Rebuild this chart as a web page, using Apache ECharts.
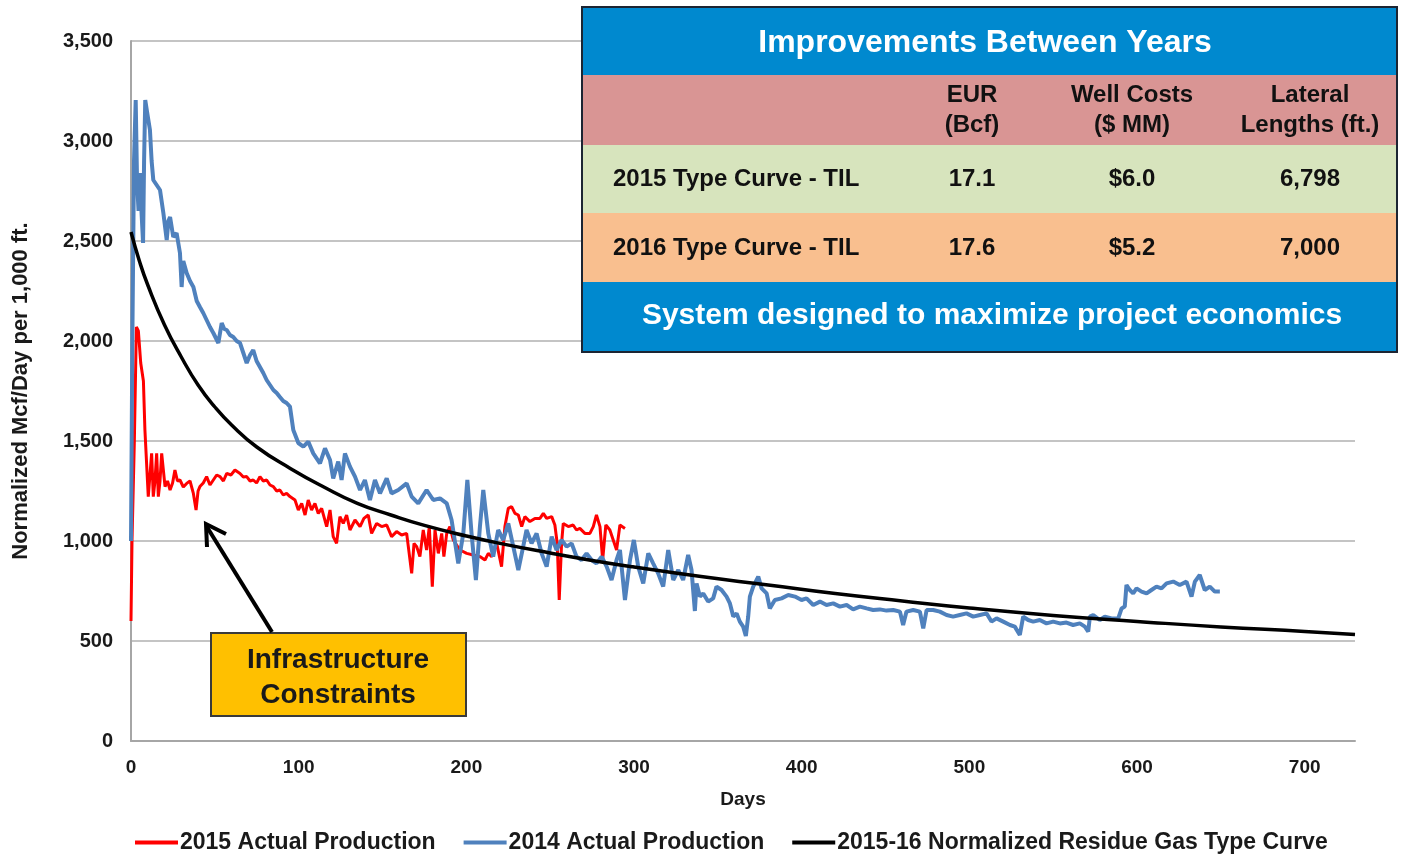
<!DOCTYPE html>
<html>
<head>
<meta charset="utf-8">
<title>Normalized production vs type curve</title>
<script src="https://cdn.jsdelivr.net/npm/echarts@6/dist/echarts.min.js"></script>
<style>
  html, body { margin: 0; padding: 0; background: #fff; }
  #chart { width: 1404px; height: 857px; }
</style>
</head>
<body>
<div id="chart"></div>
<script>
// [day, Mcf/day per 1,000 ft]
const prod2015 = [
  [0,600],[0.6,1000],[2,1500],[3.2,2070],[4.4,2050],[5.8,1890],[7.4,1800],[8.3,1555],[10.3,1222],[11.5,1350],
  [12.3,1438],[13.3,1222],[14.3,1300],[15.3,1438],[16.3,1222],[17.3,1300],[18.3,1438],[20.3,1272],[21.8,1300],[23.3,1255],
  [24.8,1290],[26.2,1355],[27.7,1300],[29.2,1305],[31.2,1270],[33.2,1288],[35.2,1300],[37.2,1238],[38.8,1155],[40,1250],
  [41.1,1272],[43.1,1290],[45.1,1322],[47.1,1280],[49.1,1305],[51.1,1330],[53.1,1322],[55.1,1300],[57.1,1338],[59.6,1330],
  [62,1355],[65,1338],[67,1320],[69,1322],[71,1300],[72.9,1305],[74.9,1290],[76.9,1322],[78.9,1300],[80.9,1305],
  [82.9,1280],[84.9,1272],[86.9,1250],[88.8,1255],[90.8,1230],[92.8,1238],[94.8,1222],[97.8,1205],[99.8,1155],[101.8,1188],
  [103.8,1130],[105.7,1205],[107.7,1155],[109.7,1188],[111.7,1138],[113.7,1163],[116.7,1072],[118.7,1155],[120.6,1022],[122.6,988],
  [124.6,1122],[126.6,1088],[128.6,1130],[130.6,1055],[133.6,1105],[136.6,1072],[138.9,1113],[141.5,1130],[143.5,1038],[146.5,1088],
  [149.5,1072],[152.5,1080],[155.4,1022],[158.4,1047],[161.4,1030],[164.4,1038],[167.4,838],[168.8,988],[170.4,972],[172.3,922],
  [174.3,1055],[176.3,955],[177.9,1072],[179.7,772],[181.3,1055],[183.3,938],[185.3,1038],[186.6,922],[188.3,1038],[190.2,1072],
  [192.2,1005],[196.2,955],[200.2,938],[204.1,930],[208.1,922],[211.1,905],[213.1,938],[215.1,922],[218.1,988],[221,872],
  [223,1072],[225,1163],[227,1172],[229,1138],[231,1130],[233,1072],[234.9,1122],[237.9,1097],[240.9,1113],[243.9,1113],
  [245.9,1138],[247.9,1113],[250.9,1122],[252.8,1080],[254.2,988],[255.4,705],[256.8,988],[257.8,1088],[260.8,1072],[263.7,1080],
  [265.7,1055],[267.7,1063],[270.7,1038],[273.7,1038],[275.7,1072],[277.6,1130],[279.7,1072],[281.3,905],[283.2,1080],[285.6,1055],
  [287.6,1005],[289.6,955],[291.6,1080],[294.6,1063]
];

const prod2014 = [
  [0,1000],[0.8,2000],[1.8,2900],[2.8,3205],[3.6,2800],[4.5,2650],[5.4,2840],[6.3,2640],[7.2,2490],[7.8,2900],
  [8.5,3205],[9.5,3150],[11.3,3055],[12.3,2900],[13.3,2805],[15.3,2780],[17.3,2755],[19.3,2640],[21.3,2505],[22.3,2600],
  [23.3,2620],[25.2,2520],[27.2,2540],[29.2,2440],[30.2,2270],[31.2,2400],[33.2,2340],[35.2,2300],[37.2,2270],[39.2,2200],
  [41.1,2170],[43.1,2140],[45.1,2105],[47.1,2070],[49.1,2040],[52.1,1990],[54.1,2090],[55.6,2060],[57.1,2055],[59,2030],
  [61,2020],[63,2000],[65,1990],[67,1940],[69,1890],[71,1930],[72.9,1955],[74.9,1900],[76.9,1870],[78.9,1840],
  [80.9,1805],[82.9,1780],[84.9,1755],[86.9,1740],[88.8,1720],[90.8,1700],[92.8,1690],[94.8,1672],[96.8,1555],[99.8,1490],
  [102.8,1472],[105.7,1497],[108.7,1438],[112.7,1388],[115.7,1463],[118.7,1405],[120.6,1313],[123.6,1397],[125.6,1305],[127.6,1438],
  [130.6,1372],[133.6,1322],[136.6,1255],[139.5,1305],[142.5,1205],[145.5,1305],[148.5,1238],[152.5,1313],[155.4,1238],[159.4,1255],
  [164.4,1288],[167.4,1222],[171.3,1188],[176.3,1255],[180.3,1205],[184.3,1213],[188.3,1188],[191.2,1105],[195.2,888],[198.2,1038],
  [200.6,1305],[203.1,1038],[205.7,805],[208.1,1072],[210.1,1255],[213.1,1038],[216,922],[219,1055],[222,1005],[225,1088],
  [228,972],[231,855],[233.9,972],[235.9,1055],[238.9,988],[241.9,1038],[244.9,938],[247.9,872],[250.9,1022],[253.8,955],
  [256.8,1005],[259.8,972],[262.8,988],[265.7,922],[268.7,905],[271.7,938],[274.7,905],[277.6,888],[280.7,922],[283.7,872],
  [286.6,805],[289.6,905],[291.6,955],[294.6,705],[297.6,905],[299.9,1005],[302.5,872],[305.5,788],[308.5,938],[311.4,888],
  [314.4,838],[317.4,772],[320.4,955],[323.4,805],[326.4,855],[329.3,805],[332.3,930],[334.3,855],[336.3,650],[337.3,788],
  [339.3,722],[341.3,738],[344.2,697],[347.2,713],[349.2,772],[352.2,755],[355.2,722],[357.2,688],[359.2,622],[361.2,638],
  [363.1,597],[365.1,572],[366.7,525],[368.1,622],[369.1,722],[371.1,772],[374.1,822],[376.1,763],[379.1,738],[381,663],
  [384,705],[388,713],[392,730],[396,722],[399.9,705],[402.9,713],[406.9,680],[410.9,697],[414.8,680],[418.8,688],
  [422.8,672],[426.8,680],[430.7,658],[434.7,672],[438.7,663],[442.6,655],[446.6,658],[450.6,652],[454.6,655],[458.6,647],
  [460.5,580],[462.5,647],[466.5,655],[470.5,647],[472.5,563],[474.5,655],[478.4,655],[482.4,647],[486.4,630],[490.3,622],
  [494.3,630],[498.3,638],[502.3,622],[506.3,630],[510.3,638],[513.2,597],[516.2,613],[520.2,597],[524.2,580],[527.1,572],
  [530.1,530],[532.1,622],[535.1,605],[538.1,597],[542,605],[546,588],[550,597],[554,588],[557.9,592],[561.9,580],
  [565.9,588],[568.9,572],[570.9,547],[571.9,622],[573.9,630],[577.8,605],[580.8,622],[584.8,613],[588.8,613],[590.8,663],
  [592.7,672],[593.7,780],[595.7,755],[597.7,738],[599.7,763],[602.7,747],[605.7,738],[608.6,755],[611.6,772],[614.6,763],
  [617.6,788],[621.6,797],[625.5,780],[629.5,797],[632.5,722],[634.5,797],[637.4,830],[640.4,755],[643.4,772],[646.4,747],
  [649.4,747]
];

const typeCurve = [
  [0,2545],[5,2400],[10,2280],[20,2080],[30,1920],[40,1780],[50,1670],[60,1580],[75,1470],[95,1363],
  [115,1270],[135,1188],[155,1130],[175,1078],[200,1025],[220,988],[250,940],[275,903],[300,870],[340,822],
  [380,780],[420,737],[460,700],[500,665],[550,628],[600,598],[650,570],[700,548],[730,532]
];

const seriesNames = ['2015 Actual Production', '2014 Actual Production', '2015-16 Normalized Residue Gas Type Curve'];

const tableTitle = 'Improvements Between Years';
const tableHeaders = ['EUR\n(Bcf)', 'Well Costs\n($ MM)', 'Lateral\nLengths (ft.)'];
const tableRows = [
  ['2015 Type Curve - TIL', '17.1', '$6.0', '6,798'],
  ['2016 Type Curve - TIL', '17.6', '$5.2', '7,000']
];
const tableFooter = 'System designed to maximize project economics';
const calloutText = 'Infrastructure\nConstraints';

const FONT = '"Liberation Sans", Arial, sans-serif';

const chart = echarts.init(document.getElementById('chart'));

// table overlay
const colX = [972, 1132, 1310];
const rowBands = [
  { y: 7, h: 68, fill: '#0089cf' },
  { y: 75, h: 70, fill: '#d99594' },
  { y: 145, h: 68, fill: '#d7e4bd' },
  { y: 213, h: 69, fill: '#f9bf8f' },
  { y: 282, h: 70, fill: '#0089cf' }
];
const graphics = [];
rowBands.forEach(b => {
  graphics.push({ type: 'rect', z: 100, shape: { x: 582, y: b.y, width: 815, height: b.h }, style: { fill: b.fill } });
});
graphics.push({ type: 'rect', z: 101, shape: { x: 582, y: 7, width: 815, height: 345 },
  style: { fill: 'none', stroke: '#1c2533', lineWidth: 2 } });

function txt(x, y, text, size, color, align, lh) {
  return { type: 'text', z: 102, x: x, y: y,
    style: { text: text, fill: color, font: 'bold ' + size + 'px ' + FONT,
      textAlign: align || 'center', textVerticalAlign: 'middle', lineHeight: lh || size * 1.2 } };
}
graphics.push(txt(985, 43, tableTitle, 32, '#fff'));
tableHeaders.forEach((h, i) => graphics.push(txt(colX[i], 110, h, 24, '#111', 'center', 30)));
tableRows.forEach((r, ri) => {
  const y = ri === 0 ? 179 : 248;
  graphics.push(txt(613, y, r[0], 24, '#111', 'left'));
  for (let i = 1; i < r.length; i++) graphics.push(txt(colX[i - 1], y, r[i], 24, '#111'));
});
graphics.push(txt(992, 316, tableFooter, 30, '#fff'));

// callout box + arrow
graphics.push({ type: 'rect', z: 100, shape: { x: 211, y: 633, width: 255, height: 83 },
  style: { fill: '#ffc000', stroke: '#3a3a3a', lineWidth: 2 } });
graphics.push(txt(338, 678, calloutText, 28, '#1a1a1a', 'center', 35));
graphics.push({ type: 'polyline', z: 100, shape: { points: [[272, 632], [207, 527]] },
  style: { stroke: '#000', lineWidth: 4 } });
graphics.push({ type: 'polyline', z: 100, shape: { points: [[207, 547], [206, 524], [226, 534]] },
  style: { stroke: '#000', lineWidth: 4, lineJoin: 'miter' } });

const option = {
  backgroundColor: '#fff',
  animation: false,
  textStyle: { fontFamily: FONT },
  grid: { left: 131, right: 49, top: 41, bottom: 116 },
  legend: {
    left: 130, top: 826,
    icon: 'rect', itemWidth: 43, itemHeight: 4, itemGap: 28,
    textStyle: { fontSize: 23, fontWeight: 'bold', color: '#1a1a1a', fontFamily: FONT, padding: [0, 0, 0, -3] },
    data: seriesNames
  },
  xAxis: {
    type: 'value', min: 0, max: 730, interval: 100,
    name: 'Days', nameLocation: 'middle', nameGap: 49,
    nameTextStyle: { fontSize: 19, fontWeight: 'bold', color: '#1a1a1a' },
    axisLine: { show: true, lineStyle: { color: '#a6a6a6', width: 2 } },
    axisTick: { show: false },
    axisLabel: { margin: 17, fontSize: 19, fontWeight: 'bold', color: '#1a1a1a', showMaxLabel: false },
    splitLine: { show: false }
  },
  yAxis: {
    type: 'value', min: 0, max: 3500, interval: 500,
    name: 'Normalized Mcf/Day per 1,000 ft.', nameLocation: 'middle', nameGap: 99,
    nameTextStyle: { fontSize: 22, fontWeight: 'bold', color: '#1a1a1a' },
    axisLine: { show: true, lineStyle: { color: '#a6a6a6', width: 2 } },
    axisTick: { show: false },
    axisLabel: { margin: 18, fontSize: 20, fontWeight: 'bold', color: '#1a1a1a',
      formatter: v => v.toLocaleString('en-US') },
    splitLine: { lineStyle: { color: '#c4c4c4', width: 2 } }
  },
  series: [
    { name: seriesNames[0], type: 'line', data: prod2015, symbol: 'none',
      lineStyle: { color: '#ff0000', width: 3 }, itemStyle: { color: '#ff0000' } },
    { name: seriesNames[1], type: 'line', data: prod2014, symbol: 'none',
      lineStyle: { color: '#4f81bd', width: 4 }, itemStyle: { color: '#4f81bd' } },
    { name: seriesNames[2], type: 'line', data: typeCurve, symbol: 'none', smooth: true,
      lineStyle: { color: '#000', width: 3.5 }, itemStyle: { color: '#000' } }
  ],
  graphic: graphics
};

chart.setOption(option);
</script>
</body>
</html>
